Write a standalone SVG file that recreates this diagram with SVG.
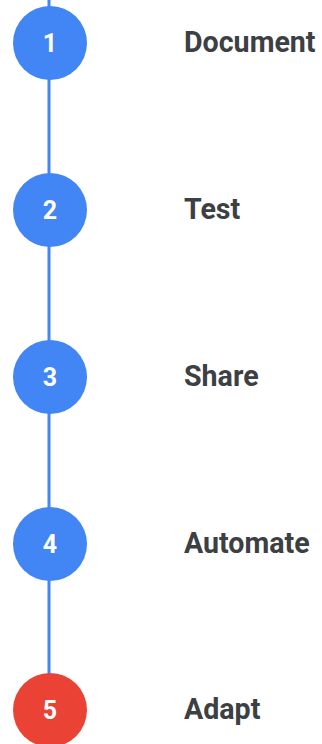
<svg xmlns="http://www.w3.org/2000/svg" width="322" height="744" viewBox="0 0 322 744">
<style>
.n{font-family:Roboto,"Liberation Sans",sans-serif;font-weight:bold;font-size:25px;fill:#fff;text-anchor:middle}
.l{font-family:Roboto,"Liberation Sans",sans-serif;font-weight:bold;font-size:28.6px;fill:#3c4043}
.b{fill:#4285f4}
.r{fill:#ea4335}
</style>
<rect width="322" height="744" fill="#fff"/>
<g id="connectors">
<line x1="49" y1="0" x2="49" y2="700" stroke="#4285f4" stroke-width="3"/>
</g>
<g id="step1"><circle class="b" cx="50" cy="43" r="37"/><text class="n" x="50" y="52">1</text><text class="l" x="184" y="52">Document</text></g>
<g id="step2"><circle class="b" cx="50" cy="210" r="37"/><text class="n" x="50" y="219">2</text><text class="l" x="184" y="219">Test</text></g>
<g id="step3"><circle class="b" cx="50" cy="377" r="37"/><text class="n" x="50" y="386">3</text><text class="l" x="184" y="386">Share</text></g>
<g id="step4"><circle class="b" cx="50" cy="544" r="37"/><text class="n" x="50" y="553">4</text><text class="l" x="184" y="553">Automate</text></g>
<g id="step5"><circle class="r" cx="50" cy="710" r="37"/><text class="n" x="50" y="719">5</text><text class="l" x="184" y="719">Adapt</text></g>
</svg>
